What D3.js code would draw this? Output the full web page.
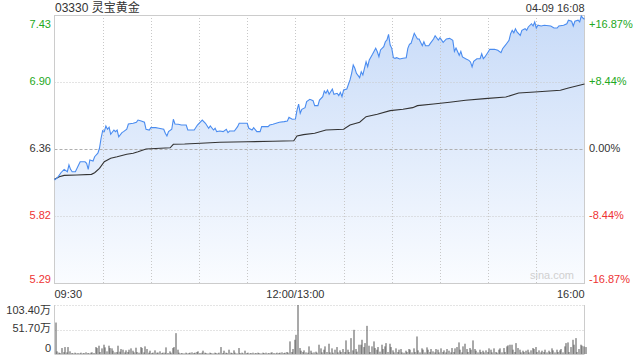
<!DOCTYPE html>
<html><head><meta charset="utf-8">
<script src="https://cdn.jsdelivr.net/npm/d3@7/dist/d3.min.js"></script>
<style>
html,body{margin:0;padding:0;background:#fff;}
svg{display:block;font-family:"Liberation Sans",Arial,"Noto Sans CJK SC",sans-serif;}
</style></head>
<body><svg id="c" width="640" height="360"></svg>
<script>
// ---- data ----
const title = "03330 灵宝黄金";
const stamp = "04-09 16:08";
const prevClose = 6.36;
const pctTicks = [16.87, 8.44, 0, -8.44, -16.87];
const priceTickLabels = ["7.43", "6.90", "6.36", "5.82", "5.29"];
const pctTickLabels = ["+16.87%", "+8.44%", "0.00%", "-8.44%", "-16.87%"];
const timeTickLabels = ["09:30", "12:00/13:00", "16:00"];
const timeTickMinutes = [0, 150, 330];
const volTickLabels = ["103.40万", "51.70万", "0"];
const volMax = 103.4;
// trading minutes since 09:30 (lunch break removed)
const priceMinutes = [0,2,4,6,8,9,10,11,13,15,16,19,20,21,22,24,25,27,28,29,30,31,32,33,34,35,37,38,39,40,42,43,45,46,49,51,52,54,56,57,59,60,63,65,68,69,70,71,73,74,75,77,79,81,82,83,87,89,92,94,96,97,99,100,101,103,105,107,108,109,112,114,115,120,121,123,124,126,128,129,133,134,136,138,140,143,145,146,148,150,151,152,153,154,156,157,159,161,162,164,165,167,168,169,170,171,173,174,176,177,178,179,180,182,184,185,186,187,188,190,191,192,194,195,196,198,200,201,202,203,205,206,207,208,209,210,211,212,213,215,217,219,220,221,222,223,224,226,227,229,230,231,233,234,236,237,239,240,242,244,246,248,249,250,252,253,254,256,258,259,260,261,263,265,266,267,268,270,271,274,276,278,279,281,283,284,285,286,287,288,290,291,293,294,295,297,298,299,300,301,303,305,309,311,313,314,317,319,320,322,323,324,326,327,328,329,330];
const priceValues = [6.112,6.133,6.170,6.197,6.178,6.232,6.197,6.178,6.178,6.232,6.258,6.258,6.245,6.197,6.272,6.264,6.298,6.326,6.366,6.446,6.507,6.499,6.544,6.518,6.534,6.478,6.512,6.499,6.512,6.458,6.491,6.499,6.518,6.560,6.566,6.574,6.592,6.584,6.574,6.518,6.512,6.531,6.531,6.526,6.518,6.486,6.464,6.499,6.518,6.598,6.560,6.558,6.552,6.552,6.552,6.512,6.512,6.552,6.592,6.566,6.526,6.544,6.512,6.526,6.499,6.504,6.499,6.518,6.491,6.504,6.504,6.539,6.566,6.566,6.526,6.512,6.531,6.499,6.499,6.539,6.539,6.552,6.558,6.566,6.574,6.579,6.584,6.614,6.598,6.600,6.672,6.720,6.646,6.678,6.691,6.739,6.758,6.747,6.707,6.707,6.752,6.779,6.824,6.806,6.832,6.798,6.840,6.798,6.806,6.787,6.814,6.779,6.832,6.840,6.913,6.966,7.033,7.006,6.966,6.931,6.979,6.953,7.059,7.019,7.073,7.118,7.166,7.139,7.099,7.153,7.179,7.219,7.233,7.278,7.193,7.166,7.091,7.086,7.091,7.081,7.086,7.091,7.166,7.198,7.206,7.246,7.286,7.241,7.241,7.187,7.219,7.187,7.187,7.206,7.241,7.267,7.233,7.251,7.214,7.241,7.246,7.230,7.142,7.169,7.110,7.142,7.097,7.083,7.070,7.057,7.017,7.062,7.083,7.083,7.123,7.083,7.097,7.137,7.158,7.158,7.150,7.131,7.163,7.195,7.230,7.283,7.310,7.291,7.323,7.297,7.270,7.310,7.323,7.310,7.337,7.363,7.345,7.377,7.329,7.351,7.345,7.351,7.345,7.329,7.329,7.345,7.351,7.363,7.391,7.383,7.345,7.383,7.391,7.377,7.425,7.409,7.399];
const avgMinutes = [0,3,6,14,23,25,28,31,35,39,45,49,52,57,66,72,74,81,91,103,120,136,149,151,155,162,169,180,184,190,194,201,209,217,223,226,236,246,256,268,281,289,299,315,320,330];
const avgValues = [6.117,6.138,6.149,6.152,6.157,6.170,6.205,6.258,6.286,6.298,6.318,6.326,6.338,6.360,6.366,6.370,6.398,6.400,6.406,6.414,6.418,6.422,6.426,6.464,6.475,6.486,6.512,6.518,6.552,6.574,6.619,6.638,6.667,6.678,6.691,6.707,6.720,6.734,6.750,6.763,6.776,6.808,6.816,6.830,6.848,6.880];
// volume per minute (万股), minutes 0..330
const volumes = [66.4,5.6,3,2.1,12.6,4,14.7,3.5,14.7,5.6,
2.1,1.4,2.8,1.4,2.1,1.4,2.8,1.4,2.1,3.5,
2.1,1.4,2.8,3.5,2.1,14.7,12.6,17.5,4.2,11.9,
19.6,14,5.6,17.5,12.6,11.9,7,3.5,4.2,17.5,
4.9,10.5,9.1,3.5,7.7,4.2,9.1,11.9,7,3.5,
13.3,4.2,2.8,14.7,12.6,3.5,16.1,10.5,2.8,7,
2.1,3,7.7,2.8,3,5.6,2.1,3,2.8,14,
2.1,5.6,2.8,12.6,14.7,44,9.1,2.8,1.4,2.1,
1.4,2.8,1.4,2.1,2.8,3.5,2.1,2.8,4.2,5.6,
2.1,2.8,7,2.8,2.1,1.4,2.8,2.1,1.4,2.8,
2.1,1.4,2.8,14.7,2.1,7,2.8,2.1,9.1,2.8,
2.1,7.7,2.8,1.4,12.6,2.1,2.8,1.4,7,2.1,
2.8,1.4,2.1,2.8,1.4,2.1,2.8,2.1,1.4,2.8,
2.1,2.8,1.4,2.1,2.8,3.5,2.1,1.4,2.8,2.1,
2.8,3.5,2.1,2.8,4.2,2.8,26.6,4.2,10.5,30,
40.5,103.4,12.6,7,4.2,7.7,3.5,2.8,16.1,7,
2.8,3.5,4.9,2.8,19.6,11.9,3.5,9.1,16.1,4.2,
21.7,3.5,11.9,2.8,9.1,14.7,3.5,7.7,4.2,10.5,
4.2,28.7,9.1,4.2,33.5,7.7,51,10.5,4.9,19.6,
19.6,30,14.7,23,59.4,17.5,4.2,16.1,26.6,12.6,
9.1,14.7,4.9,19.6,10.5,16.1,23,4.2,21.7,14.7,
7.7,3.5,11.9,4.2,9.1,10.5,3.5,2.8,7,4.2,
10.5,9.1,3.5,11.9,4.2,37,7.7,3.5,11.9,9.1,
3.5,14,9.1,4.2,10.5,5.6,3.5,10.5,9.1,3.5,
11.9,4.2,7.7,3.5,10.5,7,3.5,12.6,4.2,11.9,
14.7,24.5,9.1,3.5,16.1,21.7,10.5,4.2,12.6,9.1,
28.7,10.5,7,3.5,9.1,4.2,7,3.5,7.7,4.2,
11.9,9.1,3.5,11.9,4.2,2.8,9.1,11.9,3.5,12.6,
4.2,16.1,18.2,19.6,19.6,9.1,4.2,23,12.6,9.1,
3.5,7,4.2,7,9.1,3.5,7.7,12.6,10.5,14.7,
4.2,7.7,3.5,7,4.2,9.1,3.5,7,4.2,11.9,
7.7,3.5,9.1,4.2,7.7,10.5,3.5,16.1,23,24.5,
4.2,14.7,30,19.6,33.5,4.2,10.5,19.6,17.5,16.1,
14.7];

// ---- layout ----
const L = 54.5, R = 584.5, T = 15, B = 283;
const VT = 305, VB = 354;
const green = "#22a822", red = "#ee3333", dark = "#333";
const svg = d3.select("#c");

const x = d3.scaleLinear().domain([0, 330]).range([L, R]);
const yMax = prevClose * (1 + pctTicks[0] / 100), yMin = prevClose * (1 + pctTicks[4] / 100);
const y = d3.scaleLinear().domain([yMin, yMax]).range([B, T]);
const yv = d3.scaleLinear().domain([0, volMax]).range([VB, VT]);

const defs = svg.append("defs");
const grad = defs.append("linearGradient").attr("id", "g").attr("x1", 0).attr("y1", 0).attr("x2", 0).attr("y2", 1)
  .attr("gradientUnits", "userSpaceOnUse").attr("y1", T).attr("y2", B).attr("x1", 0).attr("x2", 0);
grad.append("stop").attr("offset", "0").attr("stop-color", "#c8dbf8");
grad.append("stop").attr("offset", "1").attr("stop-color", "#fafcff");

const price = priceMinutes.map((m, i) => ({ m, v: priceValues[i] }));
const avg = avgMinutes.map((m, i) => ({ m, v: avgValues[i] }));

// area
svg.append("path").datum(price)
  .attr("d", d3.area().x(d => x(d.m)).y0(B).y1(d => y(d.v)))
  .attr("fill", "url(#g)");

// vertical grid
const vticks = d3.range(30, 330, 30);
svg.append("g").selectAll("line").data(vticks).join("line")
  .attr("x1", d => Math.round(x(d)) + 0.5).attr("x2", d => Math.round(x(d)) + 0.5)
  .attr("y1", T).attr("y2", B)
  .attr("stroke", "#c8c8c8").attr("stroke-dasharray", "1,2");
// horizontal grid
svg.append("g").selectAll("line").data(pctTicks.slice(1, 4)).join("line")
  .attr("x1", L).attr("x2", R)
  .attr("y1", d => Math.round(y(prevClose * (1 + d / 100))) + 0.5)
  .attr("y2", d => Math.round(y(prevClose * (1 + d / 100))) + 0.5)
  .attr("stroke", d => d === 0 ? "#b0b0b0" : "#c8c8c8")
  .attr("stroke-dasharray", d => d === 0 ? "3,2" : "1,2");

// frame
svg.append("rect").attr("x", L).attr("y", T + 0.5).attr("width", R - L).attr("height", B - T)
  .attr("fill", "none").attr("stroke", "#cccccc");

// lines
svg.append("path").datum(avg)
  .attr("d", d3.line().x(d => x(d.m)).y(d => y(d.v)))
  .attr("fill", "none").attr("stroke", "#333").attr("stroke-width", 1.1);
svg.append("path").datum(price)
  .attr("d", d3.line().x(d => x(d.m)).y(d => y(d.v)))
  .attr("fill", "none").attr("stroke", "#4a8cf0").attr("stroke-width", 1.1);

// y labels
const col = i => i < 2 ? green : (i === 2 ? dark : red);
const dy = i => i === 0 ? 10 : (i === 4 ? -3 : 0);
svg.append("g").selectAll("text").data(priceTickLabels).join("text")
  .attr("x", 51).attr("y", (d, i) => y(prevClose * (1 + pctTicks[i] / 100)) + dy(i))
  .attr("text-anchor", "end").attr("dominant-baseline", "middle")
  .attr("font-size", 11).attr("fill", (d, i) => col(i)).text(d => d);
svg.append("g").selectAll("text").data(pctTickLabels).join("text")
  .attr("x", 589).attr("y", (d, i) => y(prevClose * (1 + pctTicks[i] / 100)) + dy(i))
  .attr("text-anchor", "start").attr("dominant-baseline", "middle")
  .attr("font-size", 11).attr("fill", (d, i) => col(i)).text(d => d);

// x labels
svg.append("g").selectAll("text").data(timeTickLabels).join("text")
  .attr("x", (d, i) => x(timeTickMinutes[i]))
  .attr("y", 295).attr("dominant-baseline", "middle")
  .attr("text-anchor", (d, i) => i === 0 ? "start" : (i === 2 ? "end" : "middle"))
  .attr("font-size", 11).attr("fill", dark).text(d => d);

// title & stamp
svg.append("text").attr("x", 55).attr("y", 12).attr("font-size", 12).attr("fill", dark).text(title);
svg.append("text").attr("x", R).attr("y", 12).attr("font-size", 11).attr("text-anchor", "end").attr("fill", dark).text(stamp);
// watermark
svg.append("text").attr("x", 574).attr("y", 279).attr("font-size", 11).attr("text-anchor", "end")
  .attr("fill", "#d0d0d0").text("sina.com");

// volume panel
svg.append("g").selectAll("line").data([volMax, volMax / 2]).join("line")
  .attr("x1", L).attr("x2", R)
  .attr("y1", d => Math.round(yv(d)) + 0.5).attr("y2", d => Math.round(yv(d)) + 0.5)
  .attr("stroke", "#c8c8c8").attr("stroke-dasharray", "1,2");
svg.append("line").attr("x1", L).attr("x2", L).attr("y1", VT).attr("y2", VB).attr("stroke", "#cccccc");
svg.append("line").attr("x1", R).attr("x2", R).attr("y1", VT).attr("y2", VB).attr("stroke", "#cccccc");
svg.append("line").attr("x1", L).attr("x2", R).attr("y1", VB + 0.5).attr("y2", VB + 0.5).attr("stroke", "#cccccc");
svg.append("g").selectAll("rect").data(volumes).join("rect")
  .attr("x", (d, i) => Math.round(x(i)) + 0.5).attr("width", 1)
  .attr("y", d => yv(d)).attr("height", d => VB - yv(d))
  .attr("fill", "#555");
svg.append("g").selectAll("text").data(volTickLabels).join("text")
  .attr("x", 51).attr("y", (d, i) => yv(volMax * (1 - i / 2)) + (i === 0 ? 6 : (i === 2 ? -5 : 0)))
  .attr("text-anchor", "end").attr("dominant-baseline", "middle")
  .attr("font-size", 11).attr("fill", dark).text(d => d);
</script></body></html>
